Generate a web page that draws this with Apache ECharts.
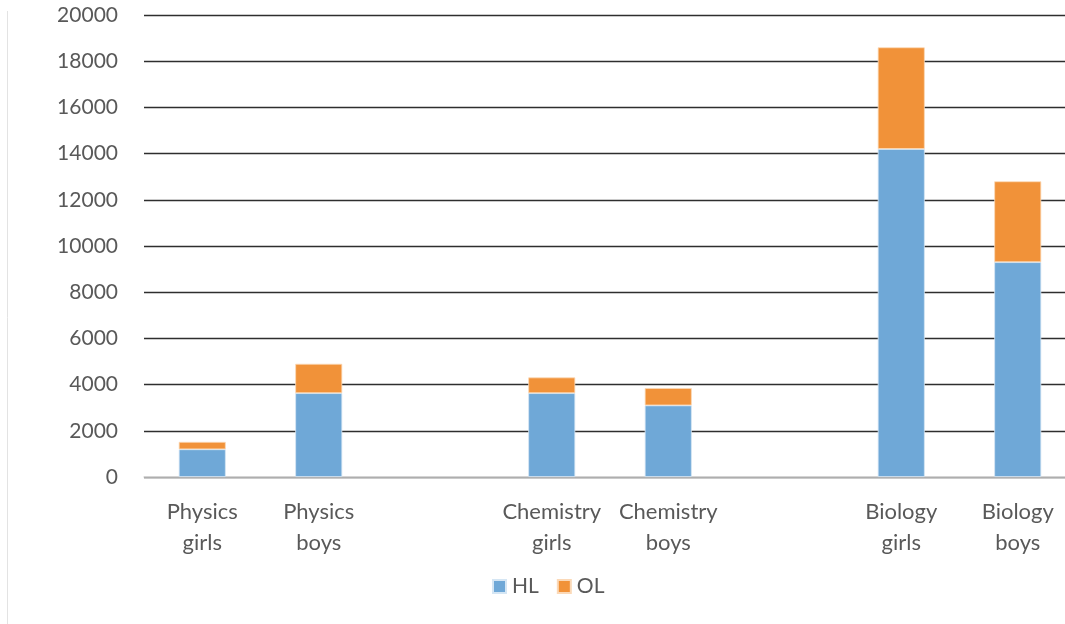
<!DOCTYPE html>
<html>
<head>
<meta charset="utf-8">
<script src="https://cdn.jsdelivr.net/npm/echarts@6/dist/echarts.min.js"></script>
<style>html,body{margin:0;padding:0;background:#fff;}#c{width:1065px;height:624px;}</style>
</head>
<body>
<div id="c"></div>
<script>
const categories = ["Physics\ngirls", "Physics\nboys", "", "Chemistry\ngirls", "Chemistry\nboys", "", "Biology\ngirls", "Biology\nboys"];
const hlValues = [1200, 3630, null, 3630, 3100, null, 14200, 9300];
const olValues = [320, 1270, null, 680, 750, null, 4400, 3500];
const yTicks = { min: 0, max: 20000, interval: 2000 };

const chart = echarts.init(document.getElementById('c'), null, { renderer: 'canvas' });
const font = 'Lato, "Open Sans", sans-serif';
chart.setOption({
  animation: false,
  textStyle: { fontFamily: font },
  graphic: [{
    type: 'line', shape: { x1: 7.5, y1: 11, x2: 7.5, y2: 624 },
    style: { stroke: '#e3e3e3', lineWidth: 1 }, silent: true
  }],
  legend: {
    data: ['HL', 'OL'],
    left: 487, top: 571,
    itemWidth: 13, itemHeight: 13, itemGap: 18,
    icon: 'rect',
    textStyle: { color: '#595959', fontSize: 21, fontFamily: font, padding: [0, 0, 0, 1] }
  },
  grid: { left: 144, width: 932, top: 15, bottom: 147, containLabel: false, outerBoundsMode: 'none' },
  xAxis: {
    type: 'category',
    data: categories,
    axisTick: { show: false },
    axisLine: { lineStyle: { color: '#d9d9d9', width: 1.5 } },
    axisLabel: { interval: 0, color: '#595959', fontSize: 22, lineHeight: 31, margin: 19, fontFamily: font }
  },
  yAxis: {
    type: 'value',
    min: yTicks.min, max: yTicks.max, interval: yTicks.interval,
    axisLine: { show: false },
    axisTick: { show: false },
    splitLine: { lineStyle: { color: '#2e2e2e', width: 1.3 } },
    axisLabel: { color: '#595959', fontSize: 21, margin: 26, fontFamily: font, formatter: v => String(v) }
  },
  series: [
    { name: 'HL', type: 'bar', stack: 'total', data: hlValues, barWidth: 47,
      itemStyle: { color: '#6FA8D7', borderColor: '#d5e6f4', borderWidth: 0.8 } },
    { name: 'OL', type: 'bar', stack: 'total', data: olValues, barWidth: 47,
      itemStyle: { color: '#F19239', borderColor: '#fbd9b8', borderWidth: 0.8 } }
  ]
});
</script>
</body>
</html>
